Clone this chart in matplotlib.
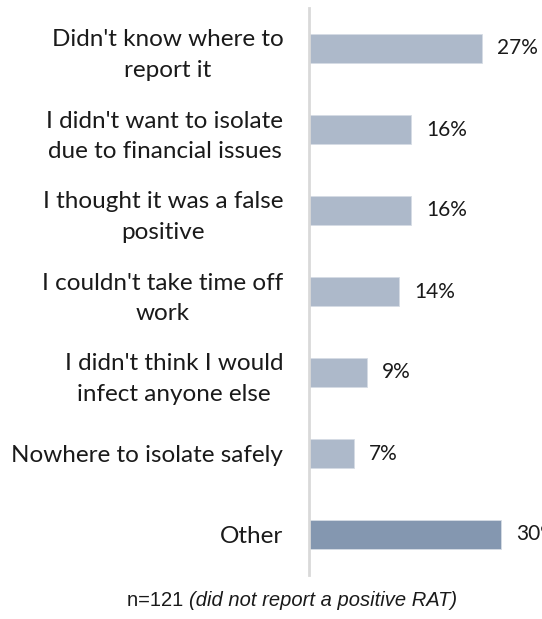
import numpy as np
import matplotlib.pyplot as plt

categories = [
    "Didn't know where to\nreport it",
    "I didn't want to isolate\ndue to financial issues",
    "I thought it was a false\npositive",
    "I couldn't take time off\nwork",
    "I didn't think I would\ninfect anyone else",
    "Nowhere to isolate safely",
    "Other",
]
values = [27, 16, 16, 14, 9, 7, 30]
colors = ['#adb9ca'] * 6 + ['#8497b0']

fig = plt.figure(figsize=(5.42, 6.19), dpi=100)
ax = fig.add_axes([309 / 542, 44 / 619, 233 / 542, 567 / 619])

y = np.arange(len(categories))
ax.barh(y, values, height=0.36, color=colors, edgecolor='#d6dce5', linewidth=0.6)

for yi, v in zip(y, values):
    ax.text(v + 2.4, yi, f"{v}%", va='center', ha='left',
            fontsize=15, family='Lato', color='#1a1a1a', clip_on=False)

ax.set_xlim(0, 233 / 6.4)
ax.set_ylim(6.5, -0.5)
ax.set_yticks(y)
ax.set_yticklabels(categories, fontsize=17.5, family='Lato', color='#1a1a1a',
                   multialignment='center', linespacing=1.55)
ax.tick_params(axis='y', length=0, pad=18.5)
ax.set_xticks([])
for s in ['top', 'right', 'bottom']:
    ax.spines[s].set_visible(False)
ax.spines['left'].set_color('#d9d9d9')
ax.spines['left'].set_linewidth(2)

# footer: plain sample size followed by italic note
t1 = fig.text(127 / 542, 1 - 600 / 619, "n=121 ", ha='left', va='center',
              fontsize=14.5, family='Liberation Sans', color='#1a1a1a')
fig.canvas.draw()
x1 = fig.transFigure.inverted().transform(
    t1.get_window_extent(fig.canvas.get_renderer()).p1)[0]
fig.text(x1, 1 - 600 / 619, "(did not report a positive RAT)", ha='left', va='center',
         fontsize=14.5, family='Liberation Sans', style='italic', color='#1a1a1a')

fig.savefig('out.png', dpi=100)
